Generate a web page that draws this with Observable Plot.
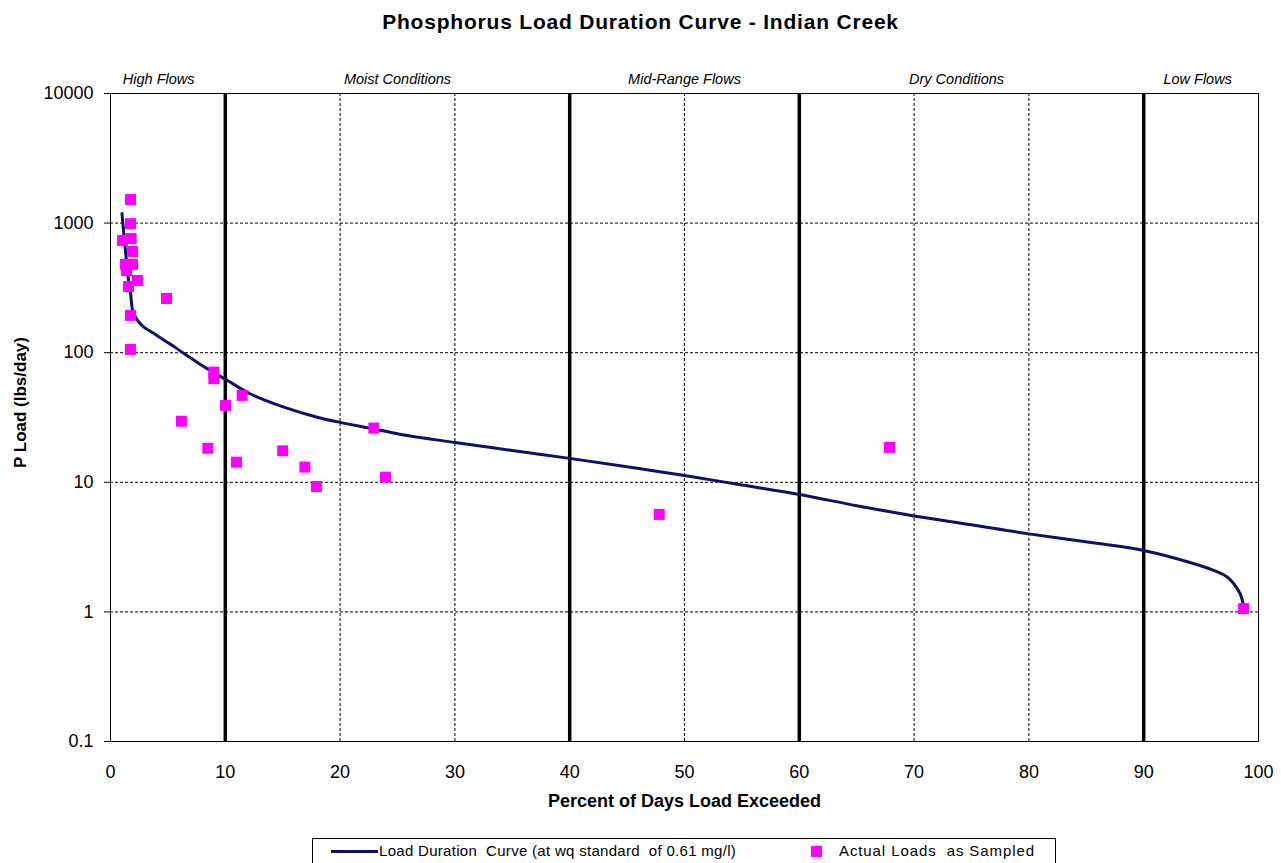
<!DOCTYPE html>
<html>
<head>
<meta charset="utf-8">
<script src="https://cdn.jsdelivr.net/npm/d3@7"></script>
<script src="https://cdn.jsdelivr.net/npm/@observablehq/plot@0.6"></script>
<style>
  body { margin: 0; background: #fff; font-family: Arial, "Liberation Sans", sans-serif; color: #000; position: relative; width: 1281px; height: 863px; overflow: hidden; }
  #title { height: 45px; line-height: 44px; text-align: center; font-weight: bold; font-size: 21px; letter-spacing: 0.8px; }
  #legend { position: absolute; left: 312px; top: 838px; width: 744px; height: 34px; border: 1px solid #000; box-sizing: border-box; background: #fff; }
  #legend .sw { position: absolute; }
  #legend .tx { position: absolute; top: 3px; font-size: 15px; white-space: pre; }
</style>
</head>
<body>
<div id="title">Phosphorus Load Duration Curve - Indian Creek</div>
<div id="chart"></div>
<div id="legend">
  <div class="sw" style="left:18px; top:11px; width:47px; height:3px; background:#0f0f6e;"></div>
  <div class="tx" style="left:66px; letter-spacing:0.3px;">Load Duration  Curve (at wq standard  of 0.61 mg/l)</div>
  <div class="sw" style="left:498px; top:7px; width:11px; height:11px; background:#ff00ff;"></div>
  <div class="tx" style="left:526px; letter-spacing:0.9px;">Actual Loads  as Sampled</div>
</div>
<script>
// Load duration curve (percent of days exceeded, lbs/day)
const curveX = [1.0, 1.3, 1.55, 1.75, 2.0, 2.75, 3.92, 5.23, 6.53, 7.84, 8.97, 10.19, 12.2, 15.1, 18.0, 20.0, 22.9, 25.3, 30, 35, 40, 45, 50, 55, 60, 65, 70, 75, 80, 86.2, 90, 94.9, 96.2, 97.3, 98.4, 98.7, 98.8];
const curveY = [1185, 615, 374, 286, 201, 162, 138, 116, 96.9, 81, 70.3, 61, 48, 38, 31.8, 29.0, 25.9, 23.4, 20.3, 17.6, 15.3, 13.2, 11.3, 9.53, 8.05, 6.6, 5.5, 4.7, 4.0, 3.36, 2.98, 2.28, 2.07, 1.85, 1.38, 1.12, 1.05];

// Actual sampled loads
const sampleX = [1.74, 1.74, 1.05, 1.8, 1.92, 1.31, 1.92, 1.4, 2.35, 1.57, 4.88, 1.74, 1.74, 9.0, 9.0, 11.47, 10.02, 6.18, 8.48, 10.97, 15.0, 16.93, 17.94, 22.94, 23.95, 47.8, 67.86, 98.7];
const sampleY = [1520, 990, 735, 760, 604, 480, 480, 430, 361, 324, 262, 194, 106, 70.8, 63, 46.8, 39.2, 29.6, 18.3, 14.3, 17.5, 13.1, 9.28, 26.2, 10.96, 5.65, 18.6, 1.06];

// Flow regimes
const regionLabels = ["High Flows", "Moist Conditions", "Mid-Range Flows", "Dry Conditions", "Low Flows"];
const regionLabelX = [4.2, 25, 50, 73.7, 94.7];
const regionBounds = [10, 40, 60, 90];
const dashedX = [20, 30, 50, 70, 80];
const dashedY = [1, 10, 100, 1000];

const yTicks = [0.1, 1, 10, 100, 1000, 10000];
const xTicks = [0, 10, 20, 30, 40, 50, 60, 70, 80, 90, 100];

const curve = curveX.map((x, i) => ({x, y: curveY[i]}));
const samples = sampleX.map((x, i) => ({x, y: sampleY[i]}));
const regions = regionLabels.map((label, i) => ({label, x: regionLabelX[i]}));

const chart = Plot.plot({
  width: 1281,
  height: 776,
  marginTop: 48,
  marginLeft: 110,
  marginRight: 23,
  marginBottom: 80,
  style: {fontFamily: "Arial, 'Liberation Sans', sans-serif", color: "#000", background: "#fff", overflow: "visible"},
  x: {domain: [0, 100]},
  y: {type: "log", domain: [0.1, 10000]},
  marks: [
    Plot.ruleY(dashedY, {stroke: "#000", strokeWidth: 1, strokeDasharray: "3,2"}),
    Plot.ruleX(dashedX, {stroke: "#000", strokeWidth: 1, strokeDasharray: "3,2"}),
    Plot.ruleX(regionBounds, {stroke: "#000", strokeWidth: 3.5}),
    Plot.frame({stroke: "#000", strokeWidth: 1}),
    Plot.axisY({ticks: yTicks, tickFormat: d => String(d), tickSize: 6, tickPadding: 11, fontSize: 18, label: null}),
    Plot.axisX({ticks: xTicks, tickFormat: d => String(d), tickSize: 0, tickPadding: 24, fontSize: 18, label: null}),
    Plot.line(curve, {x: "x", y: "y", stroke: "#0f0f6e", strokeWidth: 3, curve: "catmull-rom"}),
    Plot.dot(samples, {x: "x", y: "y", symbol: "square", r: 6.2, fill: "#ff00ff", stroke: "none"}),
    Plot.text(regions, {x: "x", text: "label", frameAnchor: "top", lineAnchor: "middle", dy: -14, fontStyle: "italic", fontSize: 14.5, fill: "#000"}),
    Plot.text(["Percent of Days Load Exceeded"], {frameAnchor: "bottom", lineAnchor: "middle", dy: 60, fontWeight: "bold", fontSize: 18, fill: "#000", letterSpacing: 0.5}),
    Plot.text(["P Load (lbs/day)"], {frameAnchor: "left", textAnchor: "middle", lineAnchor: "middle", dx: -90, dy: -15, rotate: -90, fontWeight: "bold", fontSize: 17, fill: "#000"})
  ]
});
document.getElementById("chart").appendChild(chart);
</script>
</body>
</html>
